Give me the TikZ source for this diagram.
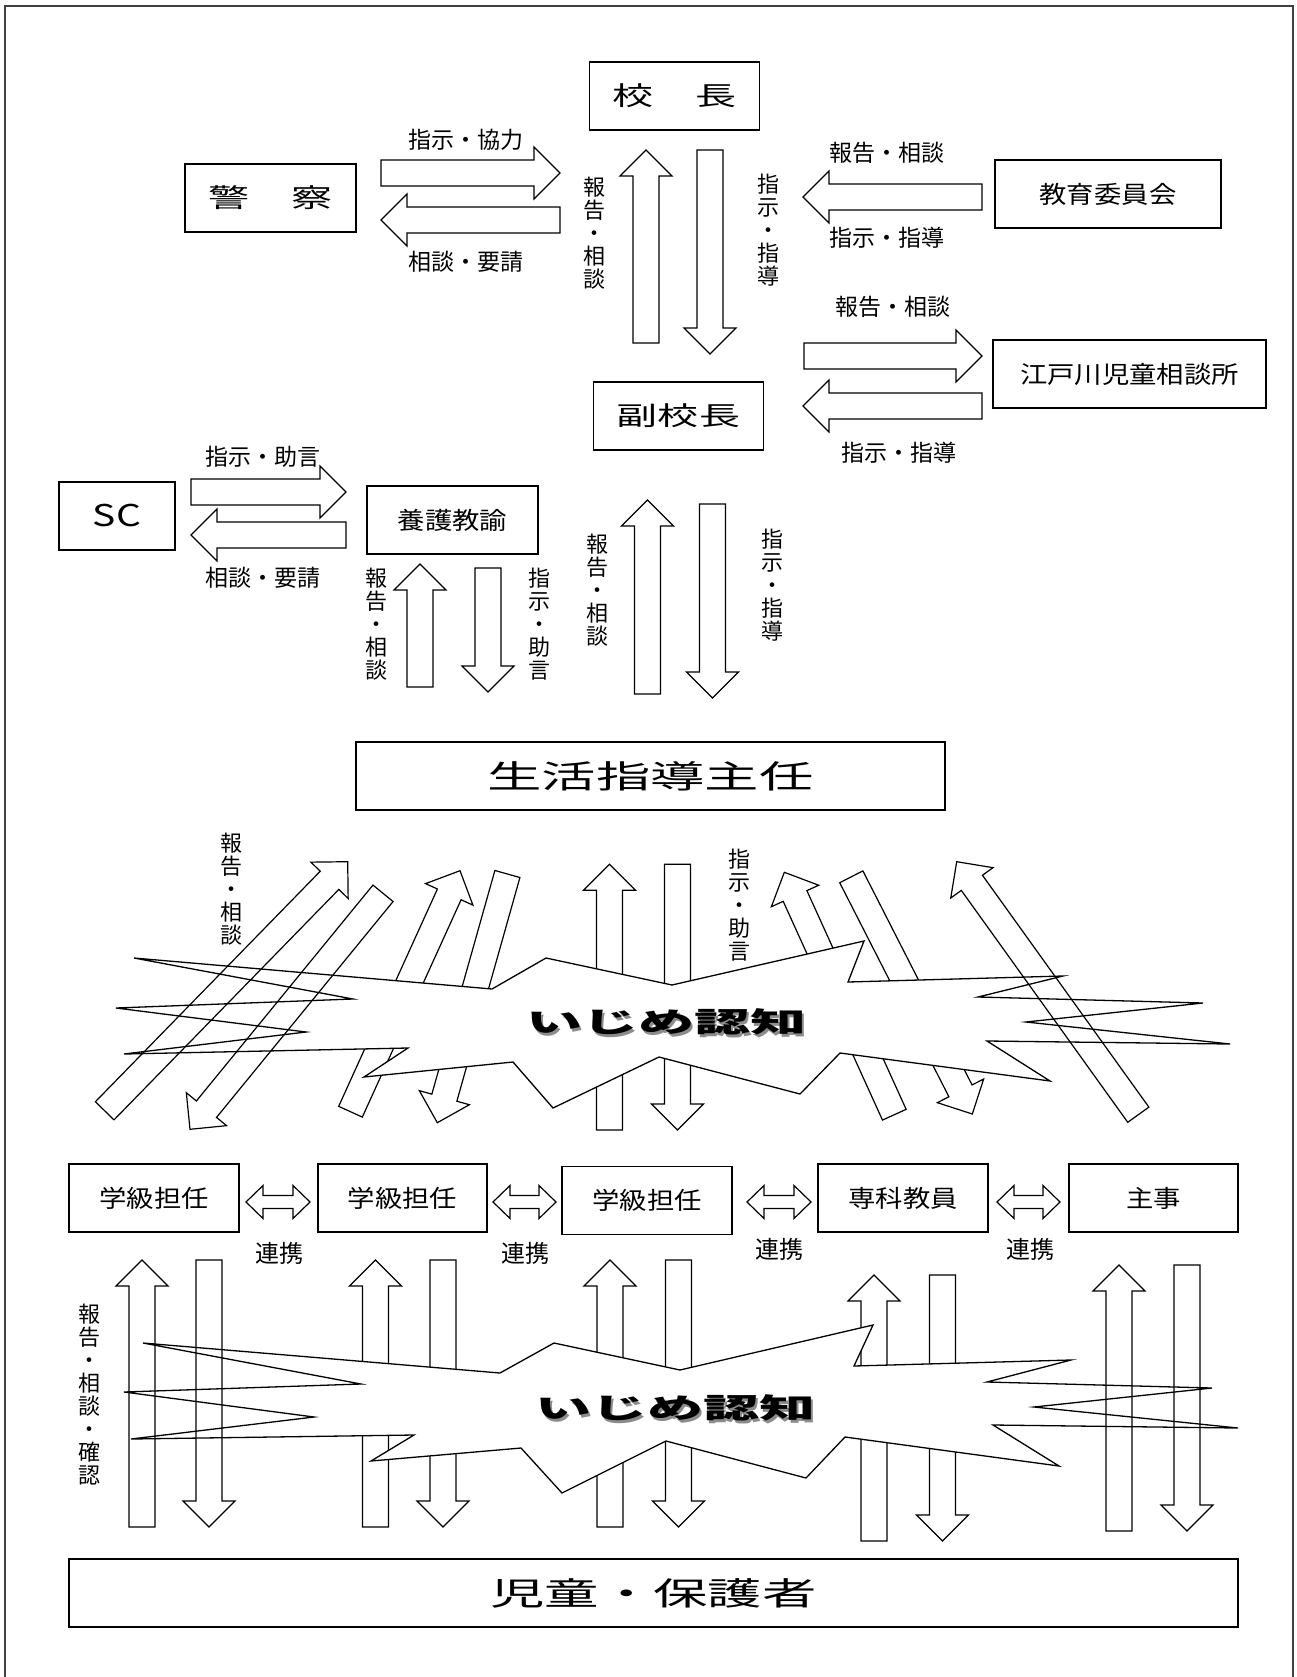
\documentclass[tikz,border=0pt]{standalone}
\usepackage{fontspec}
\setmainfont{Noto Sans CJK JP}
\usepackage{graphicx}
\usetikzlibrary{calc}
\newcommand{\xs}[2]{\scalebox{#1}[1]{#2}}
\newcommand{\bigt}[1]{\fontsize{26}{26}\selectfont\xs{1.58}{#1}}
\newcommand{\midt}[1]{\fontsize{24}{24}\selectfont\xs{1.14}{#1}}
\newcommand{\hugt}[1]{\fontsize{32}{32}\selectfont\xs{1.7}{#1}}
\newcommand{\blockarr}[3][]{%
  \coordinate (#2h) at ($(#3)!26pt!(#2)$);
  \draw[barrow,#1] ($(#2)!13pt!90:(#3)$) -- ($(#2h)!13pt!90:(#3)$) -- ($(#2h)!26pt!90:(#3)$) -- (#3)
    -- ($(#2h)!26pt!-90:(#3)$) -- ($(#2h)!13pt!-90:(#3)$) -- ($(#2)!13pt!-90:(#3)$) -- cycle;}
\newcommand{\dblarr}[2]{%
  \draw[barrow] (#1) -- ($(#1)+(17,-16.5)$) -- ($(#1)+(17,-6.5)$) -- ($(#2)+(-17,-6.5)$) -- ($(#2)+(-17,-16.5)$)
    -- (#2) -- ($(#2)+(-17,16.5)$) -- ($(#2)+(-17,6.5)$) -- ($(#1)+(17,6.5)$) -- ($(#1)+(17,16.5)$) -- cycle;}
\begin{document}
\begin{tikzpicture}[x=1pt,y=-1pt,
  box/.style={draw, line width=1.6pt, inner sep=0pt, minimum width=170pt, minimum height=68pt},
  barrow/.style={draw, line width=1.2pt, fill=white, line join=miter},
  lbl/.style={font=\fontsize{23}{23}\selectfont, inner sep=0pt},
  vlbl/.style={font=\fontsize{22}{23}\selectfont, align=center, inner sep=0pt},
  burst/.style={draw, line width=1.3pt, fill=white, line join=miter},
  ijime/.style={font=\fontsize{28}{28}\selectfont\bfseries, inner sep=0pt}]
\useasboundingbox (0,0) rectangle (1296,1677);
\fill[white] (0,0) rectangle (1296,1677);
% frame
\draw[line width=1.6pt, black!75] (5,1685) -- (5,6) -- (1293,6) -- (1293,1685);

% ---------- boxes ----------
\node[box] (kocho) at (674.5,96) {\bigt{校　長}};
\node[box, minimum width=171pt] (keisatsu) at (270.5,198) {\bigt{警　察}};
\node[box, minimum width=226pt] (kyoiku) at (1108,194) {\midt{教育委員会}};
\node[box, minimum width=273pt] (edogawa) at (1129.5,374) {\midt{江戸川児童相談所}};
\node[box] (fuku) at (678.5,416) {\bigt{副校長}};
\node[box, minimum width=116pt] (sc) at (117,516) {\fontsize{30}{30}\selectfont\xs{1.3}{SC}};
\node[box, minimum width=171pt] (yogo) at (452.5,520) {\midt{養護教諭}};
\node[box, minimum width=589pt] (seikatsu) at (650.5,776) {\hugt{生活指導主任}};
\node[box] (g1) at (154,1198) {\midt{学級担任}};
\node[box, minimum width=169pt] (g2) at (402.5,1198) {\midt{学級担任}};
\node[box] (g3) at (647,1200.5) {\midt{学級担任}};
\node[box] (senka) at (903,1198) {\midt{専科教員}};
\node[box, minimum width=169pt] (shuji) at (1153.5,1198) {\midt{主事}};
\node[box, minimum width=1169pt] (jido) at (653.5,1593) {\hugt{児童・保護者}};

% ---------- upper arrows ----------
\coordinate (a1t) at (381,173);  \coordinate (a1p) at (560,173);
\coordinate (a2t) at (560,220);  \coordinate (a2p) at (381,220);
\coordinate (a3t) at (982,197);  \coordinate (a3p) at (803,197);
\coordinate (a4t) at (804,356);  \coordinate (a4p) at (982,356);
\coordinate (a5t) at (982,406);  \coordinate (a5p) at (803,406);
\coordinate (a6t) at (191,492);  \coordinate (a6p) at (346,492);
\coordinate (a7t) at (346,535);  \coordinate (a7p) at (191,535);
\coordinate (v1t) at (646,343);  \coordinate (v1p) at (646,150);
\coordinate (v2t) at (710,150);  \coordinate (v2p) at (710,354);
\coordinate (v3t) at (420,687);  \coordinate (v3p) at (420,564);
\coordinate (v4t) at (488,568);  \coordinate (v4p) at (488,692);
\coordinate (v5t) at (647.5,694); \coordinate (v5p) at (647.5,500);
\coordinate (v6t) at (712.5,504); \coordinate (v6p) at (712.5,698);
\foreach \n in {a1,a2,a3,a4,a5,a6,a7,v1,v2,v3,v4,v5,v6} {\blockarr{\n t}{\n p}}

% ---------- upper labels ----------
\node[lbl] (l1) at (466,140) {指示・協力};
\node[lbl] (l2) at (466,262) {相談・要請};
\node[lbl] (l3) at (887,153) {報告・相談};
\node[lbl] (l4) at (887,238) {指示・指導};
\node[lbl] (l5) at (893,307) {報告・相談};
\node[lbl] (l6) at (899,453) {指示・指導};
\node[lbl] (l7) at (263,457) {指示・助言};
\node[lbl] (l8) at (263,578) {相談・要請};
\node[vlbl] (w1) at (594,233) {報\\告\\・\\相\\談};
\node[vlbl] (w2) at (768,230) {指\\示\\・\\指\\導};
\node[vlbl] (w3) at (376,624) {報\\告\\・\\相\\談};
\node[vlbl] (w4) at (539,624) {指\\示\\・\\助\\言};
\node[vlbl] (w5) at (597,590) {報\\告\\・\\相\\談};
\node[vlbl] (w6) at (772,585) {指\\示\\・\\指\\導};
\node[vlbl] (w7) at (231,889) {報\\告\\・\\相\\談};
\node[vlbl] (w8) at (739,905) {指\\示\\・\\助\\言};

% ---------- upper burst ----------
\coordinate (L1ut) at (104.7,1110.8); \coordinate (L1up) at (347.7,861.7);
\coordinate (L1dt) at (383,893.3);    \coordinate (L1dp) at (190,1129.3);
\coordinate (L2ut) at (350.5,1111.7); \coordinate (L2up) at (460,870.7);
\coordinate (L2dt) at (507.4,874);    \coordinate (L2dp) at (437.3,1122.7);
\coordinate (Cut) at (609.5,1130);    \coordinate (Cup) at (609.5,864.3);
\coordinate (Cdt) at (677.5,864.3);   \coordinate (Cdp) at (677.5,1130);
\coordinate (R1ut) at (894.3,1114.7); \coordinate (R1up) at (784.3,872.3);
\coordinate (R1dt) at (851.3,876.8);  \coordinate (R1dp) at (972.3,1114);
\coordinate (R2ut) at (1138.3,1114.7);\coordinate (R2up) at (956.7,861.7);
\foreach \n in {L2u,L2d,Cu,Cd,R1u,R1d} {\blockarr{\n t}{\n p}}
\draw[burst] (134,958) -- (492,989) -- (546,958) -- (672,985) -- (864,941) -- (848,982) -- (1063,976)
  -- (978,997) -- (1203,1003) -- (1026,1022) -- (1230,1044) -- (987,1041) -- (1050,1081) -- (840,1053)
  -- (800,1094) -- (659,1057) -- (553,1108) -- (513,1062) -- (364,1077) -- (408,1048) -- (124,1054)
  -- (306,1032) -- (116,1008) -- (353,999) -- cycle;
\foreach \n in {L1u,L1d,R2u} {\blockarr[fill=none]{\n t}{\n p}}
\node[ijime, text=black!45] at (668.5,1024.5) {\xs{2}{いじめ認知}};
\node[ijime] (ij1) at (666,1022) {\xs{2}{いじめ認知}};

% ---------- lower section ----------
\coordinate (d1l) at (246,1202); \coordinate (d1r) at (310,1202);
\coordinate (d2l) at (493,1202); \coordinate (d2r) at (556,1202);
\coordinate (d3l) at (747,1202); \coordinate (d3r) at (811,1202);
\coordinate (d4l) at (997,1202); \coordinate (d4r) at (1060,1202);
\dblarr{d1l}{d1r}\dblarr{d2l}{d2r}\dblarr{d3l}{d3r}\dblarr{d4l}{d4r}
\node[lbl, font=\fontsize{24}{24}\selectfont] (r1) at (279,1253) {連携};
\node[lbl, font=\fontsize{24}{24}\selectfont] (r2) at (525,1253) {連携};
\node[lbl, font=\fontsize{24}{24}\selectfont] (r3) at (779,1249) {連携};
\node[lbl, font=\fontsize{24}{24}\selectfont] (r4) at (1030,1249) {連携};
\node[vlbl] (w9) at (89,1395) {報\\告\\・\\相\\談\\・\\確\\認};

\coordinate (P1ut) at (142,1527);  \coordinate (P1up) at (142,1260);
\coordinate (P1dt) at (209,1260);  \coordinate (P1dp) at (209,1527);
\coordinate (P2ut) at (375.5,1527);\coordinate (P2up) at (375.5,1260);
\coordinate (P2dt) at (443,1260);  \coordinate (P2dp) at (443,1527);
\coordinate (P3ut) at (610,1527);  \coordinate (P3up) at (610,1260);
\coordinate (P3dt) at (678.5,1260);\coordinate (P3dp) at (678.5,1527);
\coordinate (P4ut) at (874,1541);  \coordinate (P4up) at (874,1275);
\coordinate (P4dt) at (942.5,1275);\coordinate (P4dp) at (942.5,1541);
\coordinate (P5ut) at (1119,1531); \coordinate (P5up) at (1119,1265);
\coordinate (P5dt) at (1187,1265); \coordinate (P5dp) at (1187,1531);
\foreach \n in {P2u,P2d,P3u,P3d,P4u,P4d} {\blockarr{\n t}{\n p}}
\draw[burst] (143,1343) -- (500,1373) -- (554,1343) -- (680,1370) -- (873,1325) -- (854,1366) -- (1071,1360)
  -- (987,1382) -- (1212,1388) -- (1034,1407) -- (1238,1428) -- (993,1425) -- (1059,1466) -- (845,1437)
  -- (806,1478) -- (666,1441) -- (562,1493) -- (521,1448) -- (371,1461) -- (414,1435) -- (131,1439)
  -- (314,1417) -- (124,1392) -- (361,1384) -- cycle;
\foreach \n in {P1u,P1d,P5u,P5d} {\blockarr[fill=none]{\n t}{\n p}}
\node[ijime, text=black!45] at (677.5,1410.5) {\xs{2}{いじめ認知}};
\node[ijime] (ij2) at (675,1408) {\xs{2}{いじめ認知}};
\end{tikzpicture}
\end{document}
